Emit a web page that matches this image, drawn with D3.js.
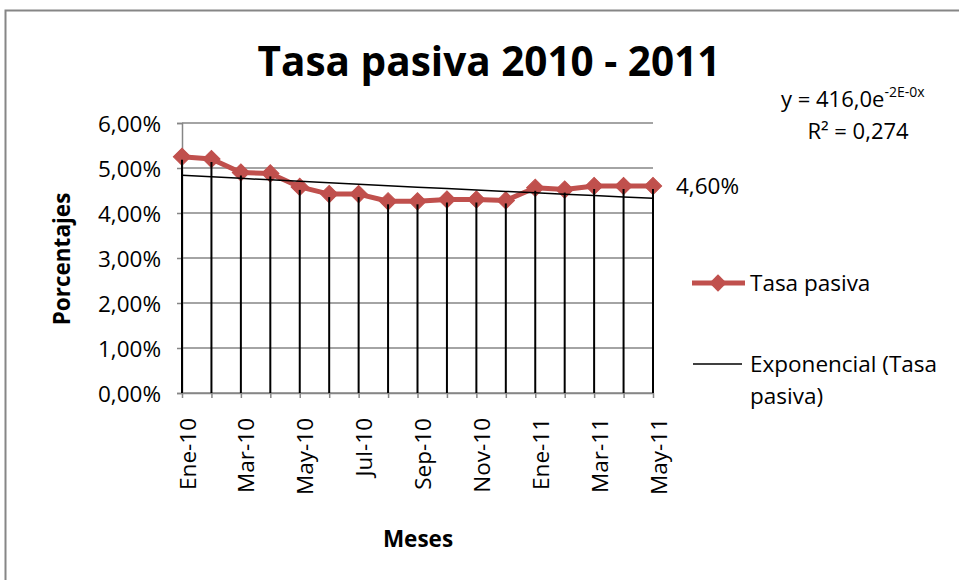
<!DOCTYPE html>
<html><head><meta charset="utf-8">
<script src="https://cdn.jsdelivr.net/npm/d3@7"></script>
<style>body{margin:0;background:#fff}svg{display:block}text{font-family:"Open Sans",sans-serif;fill:#000}</style>
</head><body><svg id="c" width="959" height="580"></svg>
<script>
const categories = ["Ene-10","Feb-10","Mar-10","Abr-10","May-10","Jun-10","Jul-10","Ago-10","Sep-10","Oct-10","Nov-10","Dic-10","Ene-11","Feb-11","Mar-11","Abr-11","May-11"];
const values = [5.25,5.20,4.90,4.88,4.58,4.42,4.42,4.26,4.26,4.30,4.30,4.28,4.56,4.52,4.60,4.60,4.60];
const yTicks = [0,1,2,3,4,5,6];
const seriesName = "Tasa pasiva";
const trendName = ["Exponencial (Tasa","pasiva)"];

const F = "'Open Sans',sans-serif";
const svg = d3.select("#c");
svg.append("rect").attr("x",5.5).attr("y",10.5).attr("width",970).attr("height",600)
  .attr("fill","none").attr("stroke","#868686").attr("stroke-width",2);

const x = d3.scalePoint().domain(categories).range([182,653]);
const y = d3.scaleLinear().domain([0,6]).range([393,123]);

// gridlines
svg.append("g").selectAll("line").data(yTicks).join("line")
  .attr("x1",182).attr("x2",653).attr("y1",d=>y(d)).attr("y2",d=>y(d))
  .attr("stroke","#868686").attr("stroke-width",1.5);

// y axis
const ya = svg.append("g").attr("transform","translate(182,0)")
  .call(d3.axisLeft(y).tickValues(yTicks).tickSize(5).tickPadding(16).tickFormat(d=>d3.format(".2f")(d).replace(".",",")+"%"));
ya.select(".domain").attr("stroke","#868686").attr("stroke-width",1.5);
ya.selectAll(".tick line").attr("stroke","#868686").attr("stroke-width",1.5);
ya.selectAll("text").attr("font-size",22.5).attr("font-family",F).attr("dy","0.36em");

// x axis
const xa = svg.append("g").attr("transform","translate(0,393)")
  .call(d3.axisBottom(x).tickSize(5).tickSizeOuter(0).tickFormat((d,i)=> i%2===0 ? d : ""));
xa.select(".domain").attr("stroke","#868686").attr("stroke-width",1.5);
xa.selectAll(".tick line").attr("stroke","#868686").attr("stroke-width",1.5);
xa.selectAll("text").attr("font-size",22.5).attr("font-family",F)
  .attr("transform","rotate(-90)").attr("text-anchor","end").attr("dy",0).attr("x",-25).attr("y",13);

// series line
const line = d3.line().x((d,i)=>x(categories[i])).y(d=>y(d));
svg.append("path").datum(values).attr("d",line).attr("fill","none")
  .attr("stroke","#C0504D").attr("stroke-width",5).attr("stroke-linejoin","round");
svg.append("g").selectAll("path").data(values).join("path")
  .attr("d",d3.symbol().type(d3.symbolSquare).size(150))
  .attr("transform",(d,i)=>`translate(${x(categories[i])},${y(d)}) rotate(45)`)
  .attr("fill","#C0504D").attr("stroke","#C0504D").attr("stroke-width",1);

// drop lines
svg.append("g").selectAll("line").data(values).join("line")
  .attr("x1",(d,i)=>x(categories[i])).attr("x2",(d,i)=>x(categories[i]))
  .attr("y1",d=>y(d)+3).attr("y2",y(0)).attr("stroke","#000").attr("stroke-width",2);

// exponential trend (least squares on ln y)
const n = values.length, xs = d3.range(n), ls = values.map(Math.log);
const mx = d3.mean(xs), ml = d3.mean(ls);
const b = d3.sum(xs.map((v,i)=>(v-mx)*(ls[i]-ml)))/d3.sum(xs.map(v=>(v-mx)**2));
const a = ml - b*mx;
const trend = xs.map(i=>Math.exp(a+b*i));
svg.append("path").datum(trend).attr("d",line).attr("fill","none").attr("stroke","#000").attr("stroke-width",1.5);

// data label
svg.append("text").attr("x",676).attr("y",194).attr("font-size",22.5)
  .text(d3.format(".2f")(values[n-1]).replace(".",",")+"%");

// title
svg.append("text").attr("x",489).attr("y",76).attr("text-anchor","middle").attr("font-size",40.5).attr("font-weight","bold")
  .text("Tasa pasiva 2010 - 2011");

// equation
const eq = svg.append("text").attr("x",781).attr("y",107).attr("font-size",22);
eq.append("tspan").text("y = 416,0e");
eq.append("tspan").attr("font-size",14).attr("dy",-10).text("-2E-0x");
svg.append("text").attr("x",858).attr("y",139).attr("text-anchor","middle").attr("font-size",22).text("R² = 0,274");

// axis titles
svg.append("text").attr("transform","translate(70,259) rotate(-90)").attr("text-anchor","middle")
  .attr("font-size",22.5).attr("font-weight","bold").text("Porcentajes");
svg.append("text").attr("x",418).attr("y",547).attr("text-anchor","middle")
  .attr("font-size",22.5).attr("font-weight","bold").text("Meses");

// legend
svg.append("line").attr("x1",692).attr("x2",745).attr("y1",283).attr("y2",283).attr("stroke","#C0504D").attr("stroke-width",5);
svg.append("path").attr("d",d3.symbol().type(d3.symbolSquare).size(150)).attr("transform","translate(718,283) rotate(45)").attr("fill","#C0504D");
svg.append("text").attr("x",750).attr("y",291).attr("font-size",22.5).text(seriesName);
svg.append("line").attr("x1",693).attr("x2",742).attr("y1",364).attr("y2",364).attr("stroke","#000").attr("stroke-width",1.5);
svg.append("text").attr("x",750).attr("y",372).attr("font-size",22.5).text(trendName[0]);
svg.append("text").attr("x",750).attr("y",404).attr("font-size",22.5).text(trendName[1]);
</script></body></html>
